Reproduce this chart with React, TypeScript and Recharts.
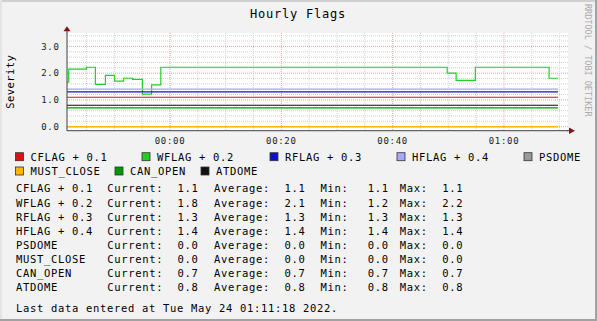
import React from 'react';
import { LineChart, Line, XAxis, YAxis, CartesianGrid } from 'recharts';

const FONT = '"DejaVu Sans Mono", "Liberation Mono", monospace';

// ---- data (minutes relative to 00:00) ----
const wflagTimes = [-18.5, -18.2, -15.0, -13.4, -11.6, -9.95, -8.35, -6.7, -4.95, -3.3, -1.65, 49.8, 51.4, 54.85, 68.1, 69.7];
const wflagValues = [1.66, 2.15, 2.22, 1.58, 1.92, 1.7, 1.81, 1.77, 1.22, 1.56, 2.22, 2.0, 1.73, 2.22, 1.81, 1.81];
const spanTimes = [-18.5, 69.7];
const cflagValues = [1.1, 1.1];
const rflagValues = [1.3, 1.3];
const hflagValues = [1.4, 1.4];
const psdomeValues = [0.0, 0.0];
const mustCloseValues = [0.0, 0.0];
const canOpenValues = [0.7, 0.7];
const atdomeValues = [0.8, 0.8];

const xTicks = [0, 20, 40, 60];
const xTickLabels = ['00:00', '00:20', '00:40', '01:00'];
const yTicks = [0, 1, 2, 3];
const yMinorGrid = [0.2, 0.4, 0.6, 0.8, 1.2, 1.4, 1.6, 1.8, 2.2, 2.4, 2.6, 2.8, 3.2, 3.4];
const yMajorGrid = [0, 1, 2, 3];
const xMinorGrid = [-15, -10, -5, 5, 10, 15, 25, 30, 35, 45, 50, 55, 65, 70];
const xMajorGrid = [0, 20, 40, 60];

const seriesNames = ['CFLAG + 0.1', 'WFLAG + 0.2', 'RFLAG + 0.3', 'HFLAG + 0.4', 'PSDOME', 'MUST_CLOSE', 'CAN_OPEN', 'ATDOME'];
const seriesColors = ['#dd1111', '#22d022', '#1111cc', '#a8a8ff', '#999999', '#ffb400', '#009900', '#111111'];
const seriesTimes = [spanTimes, wflagTimes, spanTimes, spanTimes, spanTimes, spanTimes, spanTimes, spanTimes];
const seriesValues = [cflagValues, wflagValues, rflagValues, hflagValues, psdomeValues, mustCloseValues, canOpenValues, atdomeValues];
const seriesStep = [false, true, false, false, false, false, false, false];

const statCurrent = ['1.1', '1.8', '1.3', '1.4', '0.0', '0.0', '0.7', '0.8'];
const statAverage = ['1.1', '2.1', '1.3', '1.4', '0.0', '0.0', '0.7', '0.8'];
const statMin = ['1.1', '1.2', '1.3', '1.4', '0.0', '0.0', '0.7', '0.8'];
const statMax = ['1.1', '2.2', '1.3', '1.4', '0.0', '0.0', '0.7', '0.8'];

// legend layout
const legendRow1 = [0, 1, 2, 3, 4];
const legendRow2 = [5, 6, 7];
const legendRow1X = [30.5, 157, 285, 412, 539];
const legendRow2X = [30.5, 130, 216];
const legendRowY = [156.7, 171];
const statRowY = [188.6, 203.3, 217, 231, 245, 259, 273, 287];
const statColX = [16, 107.3, 177.4, 214, 284.4, 320.5, 367.7, 399.7, 442.3];

const LEG_FS = 10.5;
const LEG_LS = 0.68;
const CAP = 0.729;

const toRows = (t: number[], v: number[]) => t.map((tt, i) => ({ t: tt, v: v[i] }));

const legText = (x: number, cy: number, s: string, key: string) => (
  <text key={key} x={x} y={cy + (LEG_FS * CAP) / 2} fontFamily={FONT} fontSize={LEG_FS} letterSpacing={LEG_LS} fill="#000">
    {s}
  </text>
);

export default function App() {
  return (
    <div style={{ position: 'relative', width: 597, height: 321, background: '#f2f2f2', overflow: 'hidden' }}>
      <style>{'body{margin:0}'}</style>
      <div style={{ position: 'absolute', left: 0, top: 0 }}>
        <LineChart width={597} height={321} margin={{ top: 33, right: 29, bottom: 170.3, left: 27 }}>
          <CartesianGrid fill="#ffffff" stroke="#d2d2d2" strokeDasharray="1 1" horizontalValues={yMinorGrid} verticalValues={xMinorGrid} />
          <CartesianGrid stroke="#e2a8a8" strokeDasharray="1 1" horizontalValues={yMajorGrid} verticalValues={xMajorGrid} />
          <XAxis
            type="number"
            dataKey="t"
            domain={[-18.5, 71.5]}
            allowDataOverflow
            ticks={xTicks}
            interval={0}
            tickFormatter={(v: number) => xTickLabels[xTicks.indexOf(v)] ?? ''}
            height={20}
            tickSize={0}
            tickMargin={7}
            axisLine={{ stroke: '#404040' }}
            tick={{ fontFamily: FONT, fontSize: 9, fill: '#222', letterSpacing: 0.7 } as any}
          />
          <YAxis
            type="number"
            domain={[-0.15, 3.5]}
            allowDataOverflow
            ticks={yTicks}
            interval={0}
            tickFormatter={(v: number) => v.toFixed(1)}
            width={40}
            tickSize={0}
            tickMargin={7.5}
            axisLine={{ stroke: '#404040' }}
            tick={{ fontFamily: FONT, fontSize: 9, fill: '#222', letterSpacing: 0.7 } as any}
          />
          {seriesNames.map((name, i) => (
            <Line
              key={name}
              name={name}
              data={toRows(seriesTimes[i], seriesValues[i])}
              dataKey="v"
              type={seriesStep[i] ? 'stepAfter' : 'linear'}
              stroke={seriesColors[i]}
              strokeWidth={1.2}
              dot={false}
              activeDot={false}
              isAnimationActive={false}
            />
          ))}
        </LineChart>
      </div>
      <svg width={597} height={321} style={{ position: 'absolute', left: 0, top: 0, pointerEvents: 'none' }}>
        {/* frame */}
        <rect x={0} y={0} width={597} height={2} fill="#d0d0d0" />
        <rect x={0} y={0} width={2} height={321} fill="#e4e4e4" />
        <rect x={0} y={319} width={597} height={2} fill="#a2a2a2" />
        <rect x={595} y={0} width={2} height={321} fill="#a2a2a2" />
        {/* axis arrows */}
        <line x1={67} y1={30} x2={67} y2={33.5} stroke="#404040" strokeWidth={1} />
        <polygon points="67,26.3 63.5,31.3 70.5,31.3" fill="#7a1616" />
        <line x1={567} y1={130.7} x2={570} y2={130.7} stroke="#404040" strokeWidth={1} />
        <polygon points="569,127.4 569,134 575,130.7" fill="#7a1616" />
        {/* title */}
        <text x={298} y={18} textAnchor="middle" fontFamily={FONT} fontSize={12} letterSpacing={0.78} fill="#000">
          Hourly Flags
        </text>
        {/* y label */}
        <text
          x={14.5}
          y={81.7}
          transform="rotate(-90 14.5 81.7)"
          textAnchor="middle"
          fontFamily={FONT}
          fontSize={10.5}
          letterSpacing={0.43}
          fill="#000"
        >
          Severity
        </text>
        {/* watermark */}
        <text x={585.2} y={4} transform="rotate(90 585.2 4)" fontFamily={FONT} fontSize={8.5} fill="#aaaaaa">
          RRDTOOL / TOBI OETIKER
        </text>
        {/* legend */}
        {legendRow1.map((si, k) => (
          <g key={'l1' + si}>
            <rect x={legendRow1X[k] - 15} y={legendRowY[0] - 4} width={8} height={8} fill={seriesColors[si]} stroke="#333" strokeWidth={0.8} />
            {legText(legendRow1X[k], legendRowY[0], seriesNames[si], 't')}
          </g>
        ))}
        {legendRow2.map((si, k) => (
          <g key={'l2' + si}>
            <rect x={legendRow2X[k] - 15} y={legendRowY[1] - 4} width={8} height={8} fill={seriesColors[si]} stroke="#333" strokeWidth={0.8} />
            {legText(legendRow2X[k], legendRowY[1], seriesNames[si], 't')}
          </g>
        ))}
        {/* stats */}
        {seriesNames.map((name, i) => (
          <g key={'s' + name}>
            {legText(statColX[0], statRowY[i], name, 'a')}
            {legText(statColX[1], statRowY[i], 'Current:', 'b')}
            {legText(statColX[2], statRowY[i], statCurrent[i], 'c')}
            {legText(statColX[3], statRowY[i], 'Average:', 'd')}
            {legText(statColX[4], statRowY[i], statAverage[i], 'e')}
            {legText(statColX[5], statRowY[i], 'Min:', 'f')}
            {legText(statColX[6], statRowY[i], statMin[i], 'g')}
            {legText(statColX[7], statRowY[i], 'Max:', 'h')}
            {legText(statColX[8], statRowY[i], statMax[i], 'i')}
          </g>
        ))}
        {legText(16, 307.7, 'Last data entered at Tue May 24 01:11:18 2022.', 'last')}
      </svg>
    </div>
  );
}
